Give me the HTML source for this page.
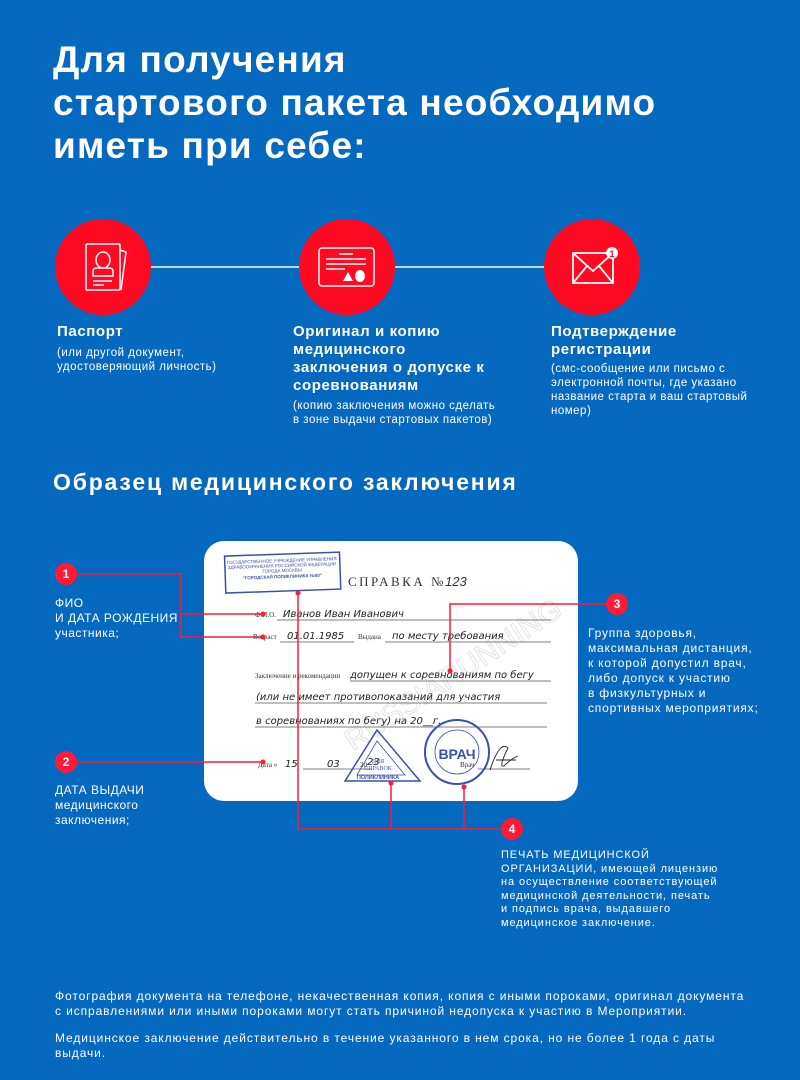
<!DOCTYPE html>
<html><head><meta charset="utf-8"><style>
html,body{margin:0;padding:0}
body{width:800px;height:1080px;background:#0569bf;position:relative;overflow:hidden;font-family:"Liberation Sans",sans-serif;color:#fff}
.a{position:absolute}
h1{position:absolute;left:53px;top:38px;margin:0;font-size:37px;line-height:43px;font-weight:bold;letter-spacing:1.2px}
.t{font-weight:bold;font-size:15px;line-height:18px;letter-spacing:0.6px}
.s{font-size:11.5px;line-height:14px;letter-spacing:0.5px}
.l{font-size:12px;line-height:15px;letter-spacing:0.8px}
.f{font-size:12px;line-height:15px;letter-spacing:0.9px}
</style></head><body>
<h1>Для получения<br>стартового пакета необходимо<br>иметь при себе:</h1>

<svg class="a" style="left:0;top:0" width="800" height="1080">
<line x1="150" y1="267" x2="300" y2="267" stroke="#fff" stroke-width="1.5"/>
<line x1="395" y1="267" x2="545" y2="267" stroke="#fff" stroke-width="1.5"/>
<circle cx="103" cy="267" r="48" fill="#ff0a22"/>
<circle cx="347" cy="267" r="48" fill="#ff0a22"/>
<circle cx="592" cy="267" r="48" fill="#ff0a22"/>
<g fill="none" stroke="#fff" stroke-width="1.5">
<rect x="86" y="244" width="34" height="46" rx="1"/>
<path d="M120 250 L126 252 L121 290"/>
<ellipse cx="103" cy="260" rx="7" ry="8"/>
<path d="M93 276 v-5 q0 -3 4 -3 h12 q4 0 4 3 v5 z"/>
<line x1="93" y1="281" x2="112" y2="281"/><line x1="93" y1="285" x2="104" y2="285"/>
</g>
<g fill="none" stroke="#fff" stroke-width="1.5">
<rect x="319" y="248" width="55" height="38" rx="3"/>
<line x1="339" y1="254" x2="353" y2="254"/>
<line x1="326" y1="259" x2="366" y2="259"/><line x1="326" y1="264" x2="366" y2="264"/>
<line x1="326" y1="269" x2="345" y2="269"/>
</g>
<polygon points="343,281 348,272 353,281" fill="#fff"/>
<ellipse cx="360" cy="276" rx="5" ry="6" fill="#fff"/>
<g fill="none" stroke="#fff" stroke-width="1.8">
<rect x="573" y="253" width="40" height="30"/>
<path d="M573 253 L593 271 L613 253 M573 283 L587 266 M613 283 L599 266"/>
</g>
<circle cx="612" cy="253" r="6" fill="#fff"/>
<text x="612" y="257" font-size="9" font-weight="bold" fill="#ff0a22" text-anchor="middle" font-family="Liberation Sans">1</text>

<rect x="204" y="541" width="374" height="260" rx="20" fill="#fff"/>
<text x="320" y="720" font-size="30" fill="none" stroke="#ddd" stroke-width="0.8" transform="rotate(-33 390 680)" font-family="Liberation Sans">RUSSIARUNNING</text>
<g transform="rotate(-2 285 568)">
<rect x="225" y="554" width="115" height="37" fill="none" stroke="#3a4fb0" stroke-width="1.5"/>
<text x="282" y="562" font-size="4.5" fill="#3a4fb0" text-anchor="middle">ГОСУДАРСТВЕННОЕ УЧРЕЖДЕНИЕ УПРАВЛЕНИЯ</text>
<text x="282" y="567" font-size="4.5" fill="#3a4fb0" text-anchor="middle">ЗДРАВООХРАНЕНИЯ РОССИЙСКОЙ ФЕДЕРАЦИИ</text>
<text x="282" y="572" font-size="4.5" fill="#3a4fb0" text-anchor="middle">ГОРОДА МОСКВЫ</text>
<text x="282" y="578" font-size="4.5" font-weight="bold" fill="#3a4fb0" text-anchor="middle">"ГОРОДСКАЯ ПОЛИКЛИНИКА №00"</text>
</g>
<text x="348" y="586" font-size="13" fill="#333" font-family="Liberation Serif" letter-spacing="2.5">СПРАВКА №</text>
<text x="445" y="586" font-size="13" fill="#333" font-style="italic">123</text>
<g font-family="Liberation Serif" font-size="7" fill="#333">
<text x="255" y="617">Ф.И.О.</text>
<text x="253" y="639">Возраст</text><text x="358" y="639">Выдана</text>
<text x="255" y="678">Заключение и рекомендации</text>
<text x="258" y="767">Дата «</text><text x="360" y="767">20</text><text x="460" y="767">Врач</text>
</g>
<g stroke="#555" stroke-width="0.7">
<line x1="277" y1="620" x2="551" y2="620"/><line x1="280" y1="642" x2="354" y2="642"/><line x1="385" y1="642" x2="551" y2="642"/>
<line x1="350" y1="681" x2="551" y2="681"/><line x1="255" y1="703" x2="547" y2="703"/><line x1="255" y1="727" x2="547" y2="727"/>
<line x1="303" y1="769" x2="372" y2="769"/><line x1="478" y1="769" x2="530" y2="769"/>
</g>
<g font-family="DejaVu Sans" font-style="italic" font-size="10" fill="#222">
<text x="283" y="617">Иванов Иван Иванович</text>
<text x="287" y="639">01.01.1985</text><text x="392" y="639">по месту требования</text>
<text x="350" y="678">допущен к соревнованиям по бегу</text>
<text x="256" y="700">(или не имеет противопоказаний для участия</text>
<text x="256" y="724">в соревнованиях по бегу) на 20__г.</text>
<text x="285" y="767">15</text><text x="327" y="767">03</text><text x="367" y="765">23</text>
</g>
<polygon points="377,730 345,781 420,781" fill="none" stroke="#3a4fb0" stroke-width="1.5"/>
<polygon points="377,741 357,775 405,775" fill="none" stroke="#3a4fb0" stroke-width="0.8"/>
<text x="378" y="779" font-size="5.5" font-weight="bold" fill="#3a4fb0" text-anchor="middle">ПОЛИКЛИНИКА</text>
<text x="378" y="763" font-size="6" fill="#3a4fb0" text-anchor="middle" font-family="Liberation Serif">ДЛЯ</text>
<text x="378" y="770" font-size="6" fill="#3a4fb0" text-anchor="middle" font-family="Liberation Serif">СПРАВОК</text>
<circle cx="457" cy="752" r="32" fill="none" stroke="#3a4fb0" stroke-width="2"/>
<circle cx="457" cy="752" r="22" fill="none" stroke="#3a4fb0" stroke-width="0.8"/>
<text x="457" y="759" font-size="14" font-weight="bold" fill="#3a4fb0" text-anchor="middle">ВРАЧ</text>
<path d="M490 770 q10 -30 18 -22 q-10 20 -4 18 q8 -8 14 -10 M496 760 h20" fill="none" stroke="#222" stroke-width="0.9"/>

<g stroke="#ff1a35" stroke-width="1.5" fill="none">
<path d="M66 574 H181 V637 H263"/><path d="M181 614 H263"/>
<path d="M66 762 H263"/>
<path d="M617 604 H450 V671"/>
<path d="M512 829 H298 V593"/><path d="M391 783 V829"/><path d="M464 787 V829"/>
</g>
<g fill="#ff1a35">
<circle cx="263" cy="614" r="2.5"/><circle cx="263" cy="637" r="2.5"/><circle cx="263" cy="762" r="2.5"/>
<circle cx="450" cy="671" r="2.5"/><circle cx="298" cy="593" r="2.5"/><circle cx="391" cy="783" r="2.5"/><circle cx="464" cy="787" r="2.5"/>
<circle cx="66" cy="574" r="11"/><circle cx="66" cy="762" r="11"/><circle cx="617" cy="604" r="11"/><circle cx="512" cy="829" r="11"/>
</g>
<g fill="#fff" font-size="12" font-weight="bold" text-anchor="middle" font-family="Liberation Sans">
<text x="66" y="578">1</text><text x="66" y="766">2</text><text x="617" y="608">3</text><text x="512" y="833">4</text>
</g>
</svg>

<div class="a t" style="left:57px;top:323px">Паспорт</div>
<div class="a s" style="left:57px;top:346px">(или другой документ,<br>удостоверяющий личность)</div>
<div class="a t" style="left:293px;top:323px">Оригинал и копию<br>медицинского<br>заключения о допуске к<br>соревнованиям</div>
<div class="a s" style="left:293px;top:399px">(копию заключения можно сделать<br>в зоне выдачи стартовых пакетов)</div>
<div class="a t" style="left:551px;top:323px">Подтверждение<br>регистрации</div>
<div class="a s" style="left:551px;top:362px">(смс-сообщение или письмо с<br>электронной почты, где указано<br>название старта и ваш стартовый<br>номер)</div>

<div class="a" style="left:53px;top:469px;font-size:23px;font-weight:bold;letter-spacing:1.8px">Образец медицинского заключения</div>

<div class="a l" style="left:55px;top:596px;letter-spacing:0.5px">ФИО<br>И ДАТА РОЖДЕНИЯ<br>участника;</div>
<div class="a l" style="left:55px;top:783px;letter-spacing:0.5px">ДАТА ВЫДАЧИ<br>медицинского<br>заключения;</div>
<div class="a l" style="left:588px;top:626px">Группа здоровья,<br>максимальная дистанция,<br>к которой допустил врач,<br>либо допуск к участию<br>в физкультурных и<br>спортивных мероприятиях;</div>
<div class="a" style="left:501px;top:849px;font-size:11px;line-height:13.5px;letter-spacing:0.9px">ПЕЧАТЬ МЕДИЦИНСКОЙ<br>ОРГАНИЗАЦИИ, имеющей лицензию<br>на осуществление соответствующей<br>медицинской деятельности, печать<br>и подпись врача, выдавшего<br>медицинское заключение.</div>

<div class="a f" style="left:55px;top:989px;width:745px">Фотография документа на телефоне, некачественная копия, копия с иными пороками, оригинал документа<br>с исправлениями или иными пороками могут стать причиной недопуска к участию в Мероприятии.</div>
<div class="a f" style="left:55px;top:1031px;width:745px">Медицинское заключение действительно в течение указанного в нем срока, но не более 1 года с даты<br>выдачи.</div>
</body></html>
